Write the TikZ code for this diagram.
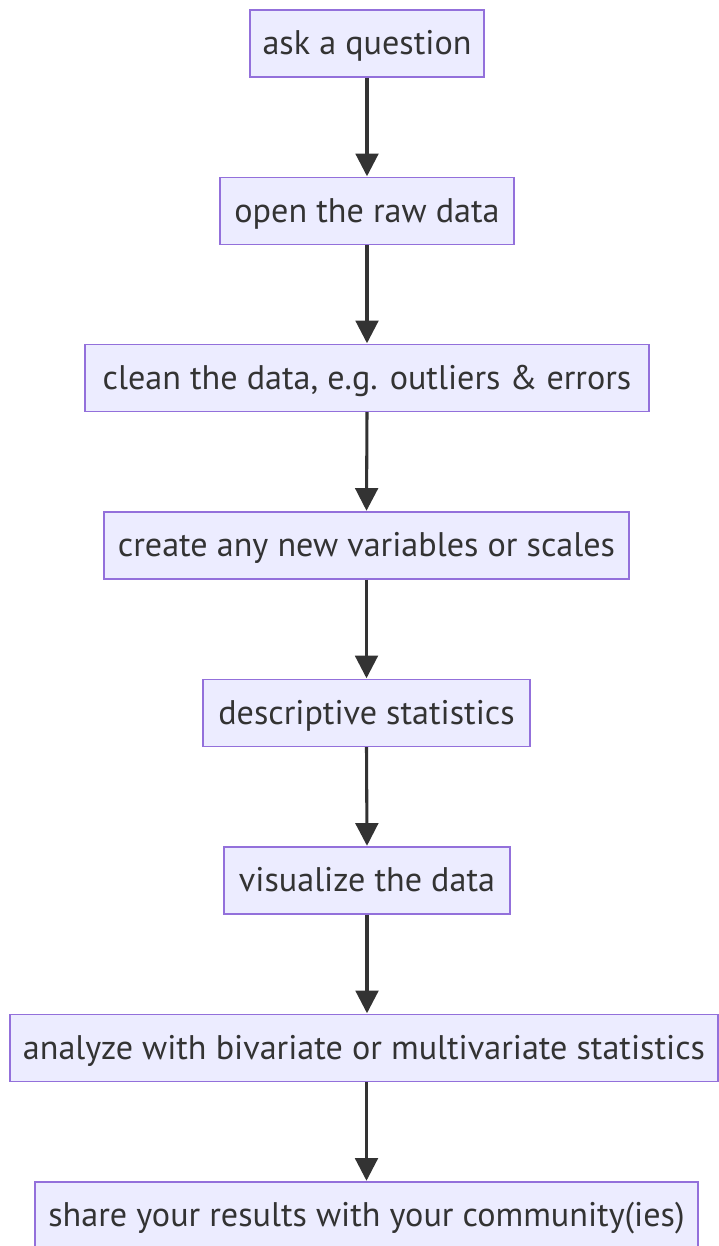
\documentclass[tikz,border=0pt]{standalone}
\usepackage{fontspec}
\setmainfont{PT Sans}
\usetikzlibrary{arrows.meta}
\definecolor{boxfill}{HTML}{ECECFF}
\definecolor{boxline}{HTML}{9370DB}
\definecolor{ink}{HTML}{333333}
\tikzset{
  stepbox/.style={draw=boxline, fill=boxfill, line width=1.1pt, minimum height=50pt,
    inner sep=0pt, text=ink, font=\fontsize{25.6}{28}\selectfont, anchor=center,
    text height=20pt, text depth=2.8pt},
  arr/.style={draw=ink, line width=2.3pt, -{Triangle[width=17pt,length=17pt]}, shorten >=0.5pt}
}
\begin{document}
\begin{tikzpicture}[x=0.75pt,y=-0.75pt]
\useasboundingbox (0,0) rectangle (718,1246);
\node[stepbox, minimum width=175.5pt] (a) at (367,43.5) {ask a question};
\node[stepbox, minimum width=220.5pt] (b) at (367,211) {open the raw data};
\node[stepbox, minimum width=423pt] (c) at (367,378) {clean the data, e.g. outliers \& errors};
\node[stepbox, minimum width=393.75pt] (d) at (366.5,545.5) {create any new variables or scales};
\node[stepbox, minimum width=245.25pt] (e) at (366.5,713) {descriptive statistics};
\node[stepbox, minimum width=214.5pt] (f) at (367,880.5) {visualize the data};
\node[stepbox, minimum width=531pt] (g) at (364,1048) {analyze with bivariate or multivariate statistics};
\node[stepbox, minimum width=497.25pt] (h) at (366.5,1215.5) {share your results with your community(ies)};
\draw[arr] (a.south) -- (b.north);
\draw[arr] (b.south) -- (c.north);
\draw[arr] (c.south) -- (d.north);
\draw[arr] (d.south) -- (e.north);
\draw[arr] (e.south) -- (f.north);
\draw[arr] (f.south) -- (f.south |- g.north);
\draw[arr] (g.south -| h.north) -- (h.north);
\end{tikzpicture}
\end{document}
